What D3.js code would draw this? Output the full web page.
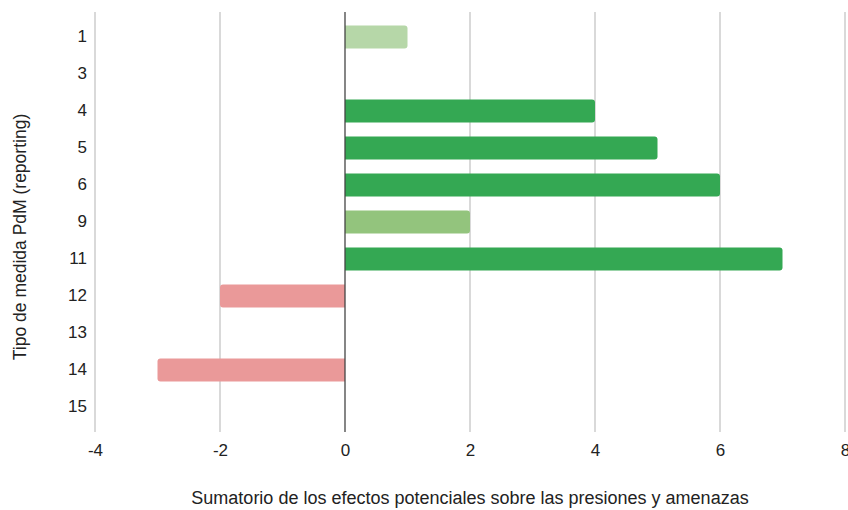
<!DOCTYPE html>
<html>
<head>
<meta charset="utf-8">
<script src="https://cdn.jsdelivr.net/npm/d3@7"></script>
<style>
  body { margin: 0; background: #fff; }
  text { font-family: "Liberation Sans", Arial, sans-serif; fill: #222; }
</style>
</head>
<body>
<div id="chart"></div>
<script>
// Data
const categories = ["1", "3", "4", "5", "6", "9", "11", "12", "13", "14", "15"];
const values = [1, 0, 4, 5, 6, 2, 7, -2, 0, -3, 0];
const barColors = ["#b6d7a8", "#34a853", "#34a853", "#34a853", "#34a853", "#93c47d", "#34a853", "#ea9999", "#34a853", "#ea9999", "#34a853"];
const xTicks = [-4, -2, 0, 2, 4, 6, 8];

const data = categories.map((c, i) => ({ cat: c, value: values[i], color: barColors[i] }));

// Dimensions
const width = 848;
const height = 510;

const svg = d3.select("#chart")
    .append("svg")
    .attr("width", width)
    .attr("height", height);

// Scales
const x = d3.scaleLinear()
    .domain([-4, 8])
    .range([95, 845]);

const y = d3.scaleBand()
    .domain(categories)
    .range([18.5, 425.5])
    .paddingInner(0.38)
    .paddingOuter(0.19);

// Gridlines
svg.append("g")
    .selectAll("line")
    .data(xTicks.filter(d => d !== 0))
    .enter()
    .append("line")
    .attr("x1", d => x(d))
    .attr("x2", d => x(d))
    .attr("y1", 12)
    .attr("y2", 432)
    .attr("stroke", "#cccccc")
    .attr("stroke-width", 1.5);

// Bars (rounded at the far end only)
function barPath(d) {
    const x0 = x(0), x1 = x(d.value);
    const y0 = y(d.cat), h = y.bandwidth();
    const r = Math.min(3, Math.abs(x1 - x0) / 2);
    if (d.value > 0) {
        return `M${x0},${y0}H${x1 - r}Q${x1},${y0} ${x1},${y0 + r}V${y0 + h - r}Q${x1},${y0 + h} ${x1 - r},${y0 + h}H${x0}Z`;
    }
    return `M${x0},${y0}H${x1 + r}Q${x1},${y0} ${x1},${y0 + r}V${y0 + h - r}Q${x1},${y0 + h} ${x1 + r},${y0 + h}H${x0}Z`;
}

svg.selectAll(".bar")
    .data(data.filter(d => d.value !== 0))
    .enter()
    .append("path")
    .attr("class", "bar")
    .attr("d", barPath)
    .attr("fill", d => d.color);

// Zero line
svg.append("line")
    .attr("x1", x(0))
    .attr("x2", x(0))
    .attr("y1", 12)
    .attr("y2", 432)
    .attr("stroke", "#444")
    .attr("stroke-width", 1.3);

// Axes
const xAxis = svg.append("g")
    .attr("transform", "translate(0,432)")
    .call(d3.axisBottom(x).tickValues(xTicks).tickFormat(d => String(d)).tickSize(0).tickPadding(12));
xAxis.select(".domain").remove();
xAxis.selectAll("text").style("font-size", "17px").attr("fill", "#222");

const yAxis = svg.append("g")
    .attr("transform", "translate(91,0)")
    .call(d3.axisLeft(y).tickSize(0).tickPadding(4));
yAxis.select(".domain").remove();
yAxis.selectAll("text").style("font-size", "17px").attr("fill", "#222");

// Axis titles
svg.append("text")
    .attr("text-anchor", "middle")
    .attr("x", 470)
    .attr("y", 504)
    .style("font-size", "18px")
    .text("Sumatorio de los efectos potenciales sobre las presiones y amenazas");

svg.append("text")
    .attr("text-anchor", "middle")
    .attr("transform", "rotate(-90)")
    .attr("x", -237)
    .attr("y", 26)
    .style("font-size", "17.5px")
    .text("Tipo de medida PdM (reporting)");
</script>
</body>
</html>
